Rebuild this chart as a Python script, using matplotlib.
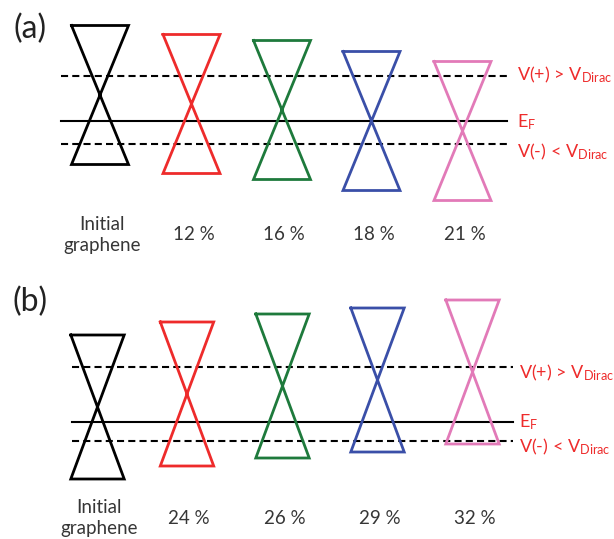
import matplotlib
matplotlib.use("Agg")
from matplotlib import pyplot as plt

plt.rcParams['font.family'] = ['Lato', 'DejaVu Sans']
plt.rcParams['mathtext.fontset'] = 'custom'
plt.rcParams['mathtext.rm'] = 'Lato'
plt.rcParams['mathtext.it'] = 'Lato:italic'

# cone labels (doping level)
labels_a = ['Initial\ngraphene', '12 %', '16 %', '18 %', '21 %']
labels_b = ['Initial\ngraphene', '24 %', '26 %', '29 %', '32 %']

# Dirac point energy relative to E_F (arb. units)
dirac_a = [2.6, 1.7, 1.1, 0.0, -1.0]
dirac_b = [1.5, 2.8, 3.6, 4.2, 5.0]

# probe levels V(+) and V(-) relative to E_F
vplus_a, vminus_a = 4.5, -2.3
vplus_b, vminus_b = 5.5, -1.9

colors = ['black', '#ee2b2b', '#1e7a3c', '#3a4fa8', '#e27ab8']
red = '#ee2b2b'
grey = '#363636'

W, H = 614, 539
fig = plt.figure(figsize=(W / 100, H / 100), dpi=100)


def panel(tag, ef_px, cx, hw, hh, labels, dirac, vplus, vminus,
          x_line, x_text, lab_y, txt_y, tag_y):
    ax = fig.add_axes([0, 0, 1, 1])
    ax.set_xlim(0, W)
    # 10 px per energy unit, E_F sits at row ef_px
    ax.set_ylim((ef_px - H) / 10, ef_px / 10)
    ax.axis('off')

    ax.plot(x_line, [vplus, vplus], color='black', lw=1.5, dashes=(3.4, 2))
    ax.plot(x_line, [0, 0], color='black', lw=1.5)
    ax.plot(x_line, [vminus, vminus], color='black', lw=1.5, dashes=(3.4, 2))

    for x, ed, c, lab in zip(cx, dirac, colors, labels):
        xs = [x - hw, x + hw, x - hw, x + hw, x - hw]
        ys = [ed + hh, ed + hh, ed - hh, ed - hh, ed + hh]
        ax.plot(xs, ys, color=c, lw=2.0, solid_joinstyle='miter')
        ax.text(x + 2, lab_y, lab, ha='center', va='center', fontsize=13.5,
                color=grey, linespacing=1.25)

    kw = dict(color=red, fontsize=13, va='baseline', ha='left')
    ax.text(x_text, vplus + txt_y[0], r'V(+) > V$_{\mathrm{Dirac}}$', **kw)
    ax.text(x_text, txt_y[1], r'E$_{\mathrm{F}}$', **kw)
    ax.text(x_text, vminus + txt_y[2], r'V(-) < V$_{\mathrm{Dirac}}$', **kw)
    ax.text(30, tag_y, tag, fontsize=23, ha='center', va='center', color='#222222')


panel('(a)', 121, [100, 191.5, 282, 371.5, 462.5], 28.5, 6.95,
      labels_a, dirac_a, vplus_a, vminus_a,
      [61, 507], 517, -11.4, (-0.4, -0.6, -1.3), 9.2)
panel('(b)', 422, [97.5, 187, 282.5, 377.5, 472.5], 26.7, 7.2,
      labels_b, dirac_b, vplus_b, vminus_b,
      [72, 513], 519, -9.6, (-1.1, -0.5, -1.1), 12.0)

fig.savefig('out.png', dpi=100)
